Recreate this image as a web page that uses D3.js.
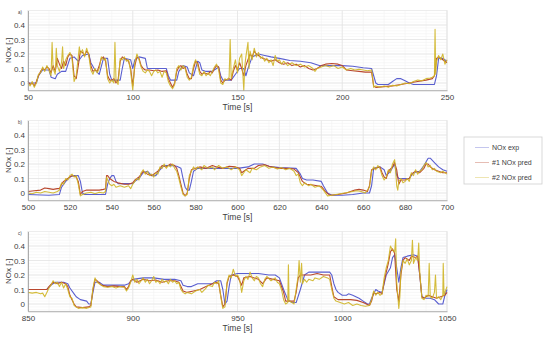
<!DOCTYPE html>
<html>
<head>
<meta charset="utf-8">
<script src="https://cdn.jsdelivr.net/npm/d3@7"></script>
<style>
  body { margin: 0; background: #fff; }
  svg text { font-family: "Liberation Sans", Arial, sans-serif; fill: #404040; }
</style>
</head>
<body>
<div id="chart"></div>
<script>
// ---- data: [time s, NOx -] ----
var expA = [[50,0],[54,0.0],[55,0.05],[57,0.09],[60,0.09],[61,0.04],[63,0.03],[64,0.06],[66,0.08],[68,0.08],[70,0.17],[72,0.18],[74,0.15],[76,0.19],[79,0.2],[80,0.14],[82,0.09],[84,0.06],[86,0.17],[88,0.17],[89,0.06],[90,0.02],[94,0.02],[95,0.1],[96,0.17],[99,0.16],[100,0.1],[101,0.16],[103,0.18],[106,0.17],[107,0.1],[116,0.1],[117,0.05],[118,0.02],[121,0.02],[122,0.08],[124,0.12],[126,0.11],[127,0.07],[129,0.05],[130,0.1],[131,0.15],[132,0.14],[133,0.09],[135,0.08],[138,0.08],[140,0.1],[141,0.11],[142,0.05],[143,0.02],[147,0.02],[149,0.06],[151,0.1],[153,0.1],[154,0.05],[155,0.1],[157,0.18],[160,0.2],[163,0.19],[166,0.18],[170,0.17],[175,0.155],[180,0.15],[185,0.14],[189,0.12],[195,0.12],[200,0.12],[205,0.115],[210,0.105],[214,0.1],[215,0.05],[216,0.0],[217,-0.01],[222,-0.01],[224,0.01],[226,0.03],[228,0.03],[230,0.015],[232,0.0],[234,-0.01],[244,-0.01],[245,0.05],[246,0.17],[248,0.17],[250,0.15]];
var pred1A = [[50,0.01],[51,-0.01],[52,0.0],[53,-0.02],[54,0.01],[55,0.05],[56,0.08],[57,0.1],[58,0.09],[59,0.11],[60,0.1],[61,0.07],[62,0.12],[63,0.08],[64,0.17],[65,0.13],[66,0.1],[67,0.15],[68,0.12],[69,0.18],[70,0.2],[71,0.19],[72,0.05],[73,0.03],[74,0.12],[75,0.22],[76,0.21],[77,0.19],[78,0.22],[79,0.2],[80,0.12],[81,0.08],[82,0.09],[83,0.08],[84,0.12],[85,0.17],[86,0.18],[87,0.15],[88,0.05],[89,0.02],[90,0.02],[91,0.03],[92,0.0],[93,0.02],[94,0.15],[95,0.18],[96,0.17],[97,0.16],[98,0.15],[99,0.1],[100,-0.02],[101,0.12],[102,0.18],[103,0.17],[104,0.12],[105,0.1],[106,0.09],[108,0.09],[110,0.085],[112,0.09],[114,0.08],[116,0.085],[117,0.03],[118,0.0],[119,-0.03],[120,0.0],[121,0.08],[122,0.11],[123,0.12],[124,0.1],[125,0.11],[126,0.06],[127,0.03],[128,0.03],[129,0.1],[130,0.15],[131,0.14],[132,0.08],[133,0.06],[134,0.07],[136,0.06],[137,0.08],[138,0.07],[139,0.1],[140,0.12],[141,0.11],[142,0.02],[143,0.0],[144,0.02],[146,0.03],[147,0.02],[148,0.08],[149,0.12],[150,0.09],[151,0.14],[152,0.1],[153,0.05],[154,0.12],[155,0.16],[156,0.2],[157,0.18],[158,0.22],[159,0.2],[160,0.19],[162,0.17],[164,0.16],[166,0.15],[168,0.16],[170,0.14],[172,0.13],[174,0.14],[176,0.12],[178,0.13],[180,0.11],[182,0.12],[184,0.1],[186,0.09],[188,0.1],[190,0.12],[192,0.13],[195,0.135],[198,0.13],[200,0.12],[202,0.09],[205,0.085],[208,0.08],[211,0.075],[214,0.075],[215,-0.02],[216,-0.03],[220,-0.025],[224,-0.02],[228,-0.01],[232,0.0],[236,0.01],[240,0.02],[243,0.03],[244,0.05],[245,0.17],[246,0.18],[248,0.16],[250,0.14]];
var pred2A = [[50,0.0],[51,-0.02],[52,0.01],[53,-0.03],[54,0.0],[55,0.06],[56,0.07],[57,0.11],[58,0.08],[59,0.12],[60,0.09],[61,0.05],[61.5,0.28],[62,0.1],[63,0.06],[63.5,0.24],[64,0.12],[65,0.08],[66,0.14],[66.5,0.25],[67,0.1],[68,0.16],[69,0.19],[70,0.21],[71,0.17],[72,0.01],[73,0.05],[74,0.18],[74.5,0.25],[75,0.2],[76,0.23],[77,0.18],[78,0.24],[79,0.19],[80,0.09],[81,0.06],[82,0.1],[83,0.07],[84,0.1],[85,0.18],[86,0.16],[87,0.17],[88,0.03],[89,0.0],[90,0.02],[91,0.0],[91.5,0.28],[92,0.02],[93,-0.01],[94,0.17],[95,0.16],[96,0.18],[97,0.15],[98,0.16],[99,0.08],[100,-0.05],[101,0.14],[102,0.2],[103,0.16],[104,0.11],[105,0.08],[106,0.07],[107,0.09],[108,0.08],[109,0.05],[110,0.08],[111,0.09],[112,0.07],[113,0.08],[114,0.04],[115,0.08],[116,0.07],[117,0.01],[118,-0.02],[119,-0.04],[120,-0.01],[121,0.1],[122,0.12],[123,0.09],[124,0.12],[125,0.1],[126,0.04],[127,0.02],[128,0.04],[129,0.12],[130,0.16],[131,0.12],[132,0.06],[133,0.05],[134,0.08],[135,0.05],[136,0.07],[137,0.05],[138,0.08],[139,0.11],[140,0.13],[141,0.09],[142,0.0],[143,-0.01],[144,0.03],[145,0.02],[146,0.04],[146.5,0.3],[147,0.03],[148,0.1],[149,0.16],[150,0.07],[151,0.17],[152,0.2],[153,-0.05],[153.5,0.12],[154,0.18],[155,0.28],[155.5,0.1],[156,0.22],[157,0.16],[158,0.24],[159,0.18],[160,0.21],[161,0.17],[162,0.18],[163,0.15],[164,0.17],[165,0.14],[166,0.16],[167,0.12],[168,0.19],[169,0.15],[170,0.16],[171,0.13],[172,0.15],[174,0.12],[176,0.14],[178,0.12],[180,0.13],[182,0.11],[184,0.12],[186,0.1],[187,0.08],[188,0.1],[190,0.11],[192,0.12],[194,0.11],[196,0.12],[198,0.1],[200,0.11],[202,0.09],[204,0.1],[206,0.09],[208,0.095],[210,0.09],[212,0.085],[214,0.09],[214.5,0.04],[215,-0.03],[216,-0.02],[218,-0.03],[220,-0.02],[222,-0.03],[224,-0.015],[226,-0.02],[228,-0.01],[230,0.0],[232,-0.005],[234,0.01],[236,0.02],[238,0.015],[240,0.03],[242,0.035],[243,0.04],[244,0.05],[244.3,0.37],[244.6,0.06],[245,0.15],[246,0.19],[247,0.16],[248,0.2],[249,0.13],[250,0.16]];

var expB = [[500,-0.01],[510,-0.015],[515,-0.01],[516,0.04],[518,0.08],[520,0.11],[522,0.12],[524,0.12],[525,0.08],[526,0.0],[527,-0.01],[537,-0.01],[538,0.06],[539,0.1],[540,0.12],[541,0.12],[542,0.08],[543,0.065],[550,0.065],[551,0.08],[553,0.1],[555,0.14],[557,0.15],[559,0.12],[561,0.12],[563,0.16],[565,0.19],[568,0.19],[571,0.185],[573,0.17],[574,0.1],[575,0.04],[576,0.02],[577,0.02],[578,0.08],[579,0.15],[581,0.17],[590,0.17],[600,0.17],[605,0.18],[608,0.2],[612,0.2],[615,0.185],[620,0.175],[628,0.17],[630,0.13],[631,0.1],[633,0.09],[636,0.09],[640,0.08],[641,0.05],[643,0.0],[645,-0.015],[650,-0.015],[655,-0.01],[660,0.0],[663,0.0],[664,0.05],[665,0.17],[668,0.18],[670,0.16],[671,0.12],[673,0.15],[675,0.2],[676,0.12],[677,0.1],[680,0.1],[682,0.1],[684,0.14],[687,0.15],[689,0.19],[691,0.24],[692,0.24],[694,0.21],[696,0.18],[698,0.16],[700,0.15]];
var pred1B = [[500,0.01],[503,0.015],[506,0.02],[508,0.035],[510,0.03],[512,0.025],[514,0.03],[515,0.03],[516,0.06],[517,0.08],[518,0.09],[519,0.1],[520,0.11],[521,0.12],[522,0.115],[523,0.11],[524,0.08],[525,-0.01],[526,0.01],[528,0.02],[530,0.02],[532,0.02],[534,0.02],[536,0.025],[537,0.03],[537.5,0.12],[538,0.12],[539,0.1],[540,0.09],[541,0.08],[543,0.07],[546,0.06],[548,0.06],[550,0.07],[551,0.09],[553,0.11],[554,0.13],[555,0.15],[556,0.14],[557,0.13],[559,0.12],[560,0.13],[562,0.15],[563,0.17],[564,0.19],[566,0.18],[568,0.2],[570,0.19],[571,0.17],[572,0.12],[573,0.06],[574,0.0],[575,-0.02],[576,0.0],[577,0.1],[578,0.16],[580,0.17],[582,0.18],[585,0.17],[588,0.19],[590,0.18],[593,0.17],[596,0.185],[599,0.18],[601,0.17],[602,0.14],[603,0.15],[605,0.17],[608,0.17],[610,0.19],[613,0.195],[616,0.18],[620,0.17],[624,0.17],[627,0.165],[629,0.14],[631,0.08],[633,0.06],[636,0.055],[638,0.05],[640,0.045],[642,0.01],[644,-0.015],[648,-0.01],[652,0.0],[656,0.02],[658,0.025],[660,0.02],[662,0.01],[663,0.05],[664,0.16],[666,0.17],[668,0.18],[669,0.14],[670,0.11],[671,0.1],[672,0.15],[674,0.18],[675,0.21],[676,0.16],[677,0.06],[678,0.09],[680,0.09],[682,0.1],[683,0.13],[685,0.15],[687,0.14],[689,0.17],[690,0.2],[691,0.2],[692,0.18],[694,0.16],[696,0.15],[698,0.14],[700,0.14]];
var pred2B = [[500,0.0],[502,-0.005],[504,0.005],[506,0.0],[508,0.01],[510,0.005],[512,0.0],[514,0.01],[515,0.02],[516,0.07],[517,0.06],[518,0.1],[519,0.09],[520,0.12],[521,0.13],[522,0.11],[523,0.12],[524,0.06],[525,-0.02],[526,-0.01],[528,0.0],[530,0.005],[532,-0.005],[534,0.005],[536,0.0],[537,0.01],[537.5,0.11],[538,0.09],[539,0.06],[540,0.05],[541,0.06],[542,0.04],[544,0.05],[546,0.04],[548,0.05],[549,0.03],[550,0.06],[551,0.08],[552,0.1],[553,0.09],[554,0.14],[555,0.16],[556,0.13],[557,0.15],[558,0.12],[559,0.13],[560,0.11],[561,0.14],[562,0.13],[563,0.18],[564,0.17],[565,0.2],[566,0.17],[567,0.19],[568,0.18],[569,0.2],[570,0.17],[571,0.15],[572,0.1],[573,0.04],[574,-0.01],[575,-0.02],[576,-0.01],[577,0.12],[578,0.15],[579,0.18],[580,0.16],[581,0.18],[583,0.16],[584,0.19],[586,0.17],[588,0.18],[589,0.16],[591,0.19],[593,0.17],[595,0.18],[597,0.16],[599,0.18],[601,0.16],[602,0.12],[603,0.14],[604,0.16],[606,0.14],[607,0.17],[609,0.16],[611,0.18],[613,0.19],[615,0.17],[617,0.18],[619,0.165],[621,0.175],[623,0.16],[625,0.17],[627,0.15],[628,0.12],[629,0.13],[630,0.07],[631,0.05],[632,0.07],[634,0.05],[635,0.06],[637,0.04],[639,0.05],[641,0.02],[643,-0.02],[645,-0.015],[647,-0.01],[649,-0.005],[651,0.0],[653,0.005],[655,0.01],[657,0.015],[659,0.01],[661,0.0],[663,0.04],[664,0.15],[665,0.18],[666,0.16],[667,0.19],[668,0.17],[669,0.12],[670,0.09],[671,0.11],[672,0.16],[673,0.14],[674,0.2],[675,0.23],[675.5,0.15],[676,0.05],[676.5,0.02],[677,0.08],[678,0.1],[679,0.07],[680,0.08],[681,0.1],[682,0.08],[683,0.14],[684,0.12],[685,0.16],[686,0.13],[687,0.15],[688,0.16],[689,0.19],[690,0.21],[691,0.18],[692,0.19],[693,0.16],[694,0.17],[695,0.15],[697,0.14],[698,0.15],[700,0.13]];

var expC = [[850,0.1],[859,0.1],[861,0.13],[863,0.15],[867,0.15],[869,0.14],[870,0.11],[872,0.07],[873,0.05],[875,0.03],[878,0.02],[879,0.0],[880,0.0],[881,0.08],[882,0.15],[884,0.15],[886,0.13],[890,0.13],[896,0.13],[898,0.14],[900,0.17],[905,0.18],[910,0.18],[915,0.17],[920,0.17],[923,0.16],[924,0.13],[926,0.12],[928,0.12],[931,0.14],[938,0.14],[940,0.16],[942,0.16],[943,0.1],[944,0.0],[945,0.02],[946,0.12],[947,0.2],[950,0.21],[955,0.21],[960,0.21],[965,0.2],[968,0.2],[970,0.18],[972,0.1],[974,0.03],[976,0.01],[978,0.01],[980,0.1],[982,0.2],[984,0.22],[990,0.22],[994,0.22],[995,0.2],[996,0.14],[997,0.1],[998,0.08],[1000,0.06],[1002,0.06],[1003,0.07],[1005,0.06],[1008,0.04],[1010,0.02],[1012,0.0],[1013,0.0],[1014,0.04],[1016,0.1],[1017,0.09],[1019,0.08],[1021,0.2],[1023,0.25],[1024,0.32],[1025,0.34],[1026,0.25],[1027,0.15],[1028,0.25],[1029,0.32],[1031,0.33],[1034,0.34],[1036,0.33],[1037,0.2],[1038,0.05],[1040,0.04],[1042,0.04],[1044,0.03],[1046,0.0],[1048,0.0],[1049,0.06],[1050,0.1]];
var pred1C = [[850,0.1],[855,0.1],[859,0.1],[860,0.12],[862,0.15],[864,0.14],[866,0.15],[868,0.14],[869,0.12],[870,0.06],[871,0.03],[872,0.0],[873,-0.02],[876,-0.025],[879,-0.02],[880,-0.01],[881,0.1],[882,0.17],[883,0.16],[885,0.13],[888,0.12],[891,0.125],[894,0.12],[896,0.12],[897,0.1],[898,0.12],[899,0.16],[900,0.17],[902,0.15],[905,0.17],[908,0.16],[911,0.165],[914,0.15],[917,0.16],[920,0.16],[922,0.15],[923,0.12],[924,0.09],[926,0.08],[929,0.09],[932,0.1],[935,0.12],[938,0.14],[940,0.15],[941,0.14],[942,0.06],[943,-0.02],[944,0.0],[945,0.14],[946,0.19],[948,0.2],[950,0.19],[952,0.13],[953,0.18],[956,0.19],[958,0.18],[960,0.17],[962,0.14],[964,0.18],[967,0.17],[970,0.16],[972,0.08],[973,0.02],[975,0.02],[977,0.02],[978,0.08],[979,0.18],[980,0.2],[982,0.2],[985,0.2],[988,0.21],[991,0.2],[994,0.2],[995,0.12],[996,0.05],[998,0.03],[1001,0.03],[1004,0.03],[1007,0.025],[1010,0.01],[1013,-0.01],[1014,0.02],[1015,0.08],[1016,0.07],[1018,0.08],[1019,0.07],[1020,0.15],[1021,0.22],[1022,0.28],[1023,0.36],[1024,0.38],[1025,0.35],[1026,0.1],[1027,0.02],[1028,0.2],[1029,0.3],[1030,0.32],[1032,0.3],[1033,0.33],[1035,0.32],[1036,0.33],[1037,0.2],[1038,0.05],[1039,0.04],[1041,0.06],[1043,0.05],[1045,0.04],[1047,0.05],[1049,0.06],[1050,0.08]];
var pred2C = [[850,0.08],[852,0.075],[854,0.08],[856,0.07],[857,0.075],[858,0.05],[859,0.08],[860,0.11],[861,0.13],[862,0.16],[863,0.14],[864,0.15],[865,0.12],[866,0.15],[867,0.11],[868,0.14],[869,0.1],[870,0.05],[871,0.04],[872,-0.01],[873,-0.02],[874,-0.03],[876,-0.025],[878,-0.03],[880,-0.02],[881,0.11],[882,0.18],[883,0.15],[884,0.14],[886,0.12],[888,0.115],[890,0.12],[892,0.11],[894,0.12],[896,0.115],[897,0.09],[898,0.11],[899,0.15],[900,0.2],[901,0.15],[902,0.17],[903,0.14],[904,0.16],[905,0.18],[906,0.15],[907,0.17],[908,0.14],[909,0.16],[910,0.19],[911,0.15],[912,0.16],[913,0.14],[914,0.17],[915,0.15],[916,0.16],[917,0.14],[918,0.17],[919,0.15],[920,0.16],[921,0.14],[922,0.15],[923,0.1],[924,0.08],[925,0.07],[926,0.08],[928,0.07],[930,0.09],[932,0.1],[933,0.08],[935,0.11],[936,0.13],[938,0.12],[939,0.15],[940,0.14],[941,0.16],[942,0.05],[943,-0.03],[944,-0.02],[945,0.15],[946,0.2],[947,0.18],[948,0.24],[949,0.19],[950,0.2],[951,0.17],[952,0.08],[953,0.16],[954,0.19],[955,0.17],[956,0.22],[957,0.18],[958,0.16],[959,0.19],[960,0.18],[961,0.14],[962,0.12],[963,0.17],[964,0.19],[966,0.16],[968,0.18],[969,0.15],[970,0.14],[971,0.1],[972,0.03],[973,0.0],[974,0.01],[974.3,0.27],[974.6,0.02],[976,0.01],[977,0.0],[978,0.1],[979,0.2],[979.4,0.3],[980,0.15],[980.6,0.28],[981,0.14],[982,0.17],[983,0.15],[984,0.17],[986,0.16],[987,0.18],[989,0.17],[991,0.19],[993,0.18],[994,0.17],[995,0.1],[996,0.04],[997,0.02],[999,0.01],[1001,0.0],[1003,0.01],[1005,-0.01],[1007,0.0],[1009,-0.01],[1011,-0.015],[1013,-0.01],[1014,0.03],[1015,0.09],[1016,0.06],[1017,0.08],[1018,0.06],[1019,0.07],[1020,0.18],[1021,0.25],[1022,0.3],[1023,0.4],[1024,0.37],[1025,0.36],[1025.5,0.45],[1026,0.15],[1027,-0.03],[1027.5,0.05],[1028,0.22],[1029,0.3],[1030,0.28],[1031,0.31],[1032,0.27],[1033,0.3],[1033.5,0.44],[1034,0.28],[1035,0.32],[1036,0.3],[1036.5,0.42],[1037,0.22],[1038,0.04],[1039,0.03],[1040,0.06],[1041,0.05],[1041.5,0.28],[1042,0.05],[1043,0.04],[1044,0.08],[1044.5,0.2],[1045,0.04],[1046,0.05],[1047,0.03],[1048,0.06],[1048.2,0.28],[1048.6,0.06],[1049,0.08],[1050,0.12]];

var xTicksA = [50, 100, 150, 200, 250];
var xTicksB = [500, 520, 540, 560, 580, 600, 620, 640, 660, 680, 700];
var xTicksC = [850, 900, 950, 1000, 1050];
var yTicks = [0, 0.1, 0.2, 0.3, 0.4];
var seriesNames = ["NOx exp", "#1 NOx pred", "#2 NOx pred"];
var colors = ["#5a5fd0", "#b9472e", "#cfb526"];

var W = 550, H = 339;
var svg = d3.select("#chart").append("svg").attr("width", W).attr("height", H);

var left = 28, right = 447, ph = 79.75;
var panels = [
  {lab: "a)", top: 10.5, ticks: xTicksA, minor: 10, data: [expA, pred1A, pred2A]},
  {lab: "b)", top: 120.5, ticks: xTicksB, minor: 5, data: [expB, pred1B, pred2B]},
  {lab: "c)", top: 231.5, ticks: xTicksC, minor: 10, data: [expC, pred1C, pred2C]}
];

panels.forEach(function(p, pi) {
  var x = d3.scaleLinear()
      .domain([p.ticks[0], p.ticks[p.ticks.length - 1]])
      .range([left, right]);
  var y = d3.scaleLinear().domain([-0.05, 0.5]).range([p.top + ph, p.top]);

  var g = svg.append("g");

  // minor grid
  var xm = d3.range(x.domain()[0], x.domain()[1] + 0.001, p.minor);
  var ym = d3.range(-0.04, 0.5, 0.02);
  g.append("g").selectAll("line").data(xm).enter().append("line")
      .attr("x1", function(d) { return x(d); }).attr("x2", function(d) { return x(d); })
      .attr("y1", y(0.5)).attr("y2", y(-0.05))
      .attr("stroke", "#f1f1f1").attr("stroke-width", 0.6);
  g.append("g").selectAll("line").data(ym).enter().append("line")
      .attr("x1", left).attr("x2", right)
      .attr("y1", function(d) { return y(d); }).attr("y2", function(d) { return y(d); })
      .attr("stroke", "#f1f1f1").attr("stroke-width", 0.6);

  // major grid
  g.append("g").selectAll("line").data(p.ticks).enter().append("line")
      .attr("x1", function(d) { return x(d); }).attr("x2", function(d) { return x(d); })
      .attr("y1", y(0.5)).attr("y2", y(-0.05))
      .attr("stroke", "#e2e2e2").attr("stroke-width", 0.7);
  g.append("g").selectAll("line").data(yTicks).enter().append("line")
      .attr("x1", left).attr("x2", right)
      .attr("y1", function(d) { return y(d); }).attr("y2", function(d) { return y(d); })
      .attr("stroke", "#e2e2e2").attr("stroke-width", 0.7);

  // box
  g.append("rect").attr("x", left).attr("y", p.top).attr("width", right - left).attr("height", ph)
      .attr("fill", "none").attr("stroke", "#e6e6e6").attr("stroke-width", 0.7);

  // series
  var line = d3.line().x(function(d) { return x(d[0]); }).y(function(d) { return y(d[1]); });
  p.data.forEach(function(s, i) {
    g.append("path").datum(s)
      .attr("d", line)
      .attr("fill", "none")
      .attr("stroke", colors[i])
      .attr("stroke-width", 1.1)
      .attr("stroke-opacity", i === 2 ? 0.9 : 1)
      .attr("stroke-linejoin", "round");
  });

  // axes
  var xAxis = d3.axisBottom(x).tickValues(p.ticks).tickSize(0).tickPadding(4)
      .tickFormat(d3.format("d"));
  var ax = g.append("g").attr("transform", "translate(0," + (p.top + ph) + ")").call(xAxis);
  ax.select(".domain").attr("stroke", "#9a9a9a").attr("stroke-width", 0.8);
  ax.selectAll("text").attr("font-size", 8).attr("fill", "#404040")
      .attr("font-family", "Liberation Sans, Arial, sans-serif");

  var yAxis = d3.axisLeft(y).tickValues(yTicks).tickSize(0).tickPadding(3)
      .tickFormat(function(d) { return d === 0 ? "0" : d3.format(".1f")(d); });
  var ay = g.append("g").attr("transform", "translate(" + left + ",0)").call(yAxis);
  ay.select(".domain").attr("stroke", "#9a9a9a").attr("stroke-width", 0.8);
  ay.selectAll("text").attr("font-size", 8).attr("fill", "#404040")
      .attr("font-family", "Liberation Sans, Arial, sans-serif");

  g.append("text")
      .attr("transform", "translate(11," + (p.top + ph / 2) + ") rotate(-90)")
      .attr("text-anchor", "middle").attr("font-size", 8)
      .text("NOx [-]");

  g.append("text")
      .attr("x", (left + right) / 2).attr("y", p.top + ph + 20)
      .attr("text-anchor", "middle").attr("font-size", 8.5)
      .text("Time [s]");

  g.append("text")
      .attr("x", 18).attr("y", p.top + 3)
      .attr("font-size", 4.5)
      .text(p.lab);
});

// legend
var lg = svg.append("g");
lg.append("rect").attr("x", 464).attr("y", 137).attr("width", 78).attr("height", 47)
    .attr("fill", "#fff").attr("stroke", "#cfcfcf").attr("stroke-width", 0.8);
seriesNames.forEach(function(n, i) {
  var yy = 147.5 + i * 15;
  lg.append("line").attr("x1", 475).attr("x2", 489).attr("y1", yy).attr("y2", yy)
      .attr("stroke", colors[i]).attr("stroke-width", 0.6).attr("stroke-opacity", 0.6);
  lg.append("text").attr("x", 492).attr("y", yy + 2.5).attr("font-size", 7).attr("fill", "#333")
      .text(n);
});
</script>
</body>
</html>
